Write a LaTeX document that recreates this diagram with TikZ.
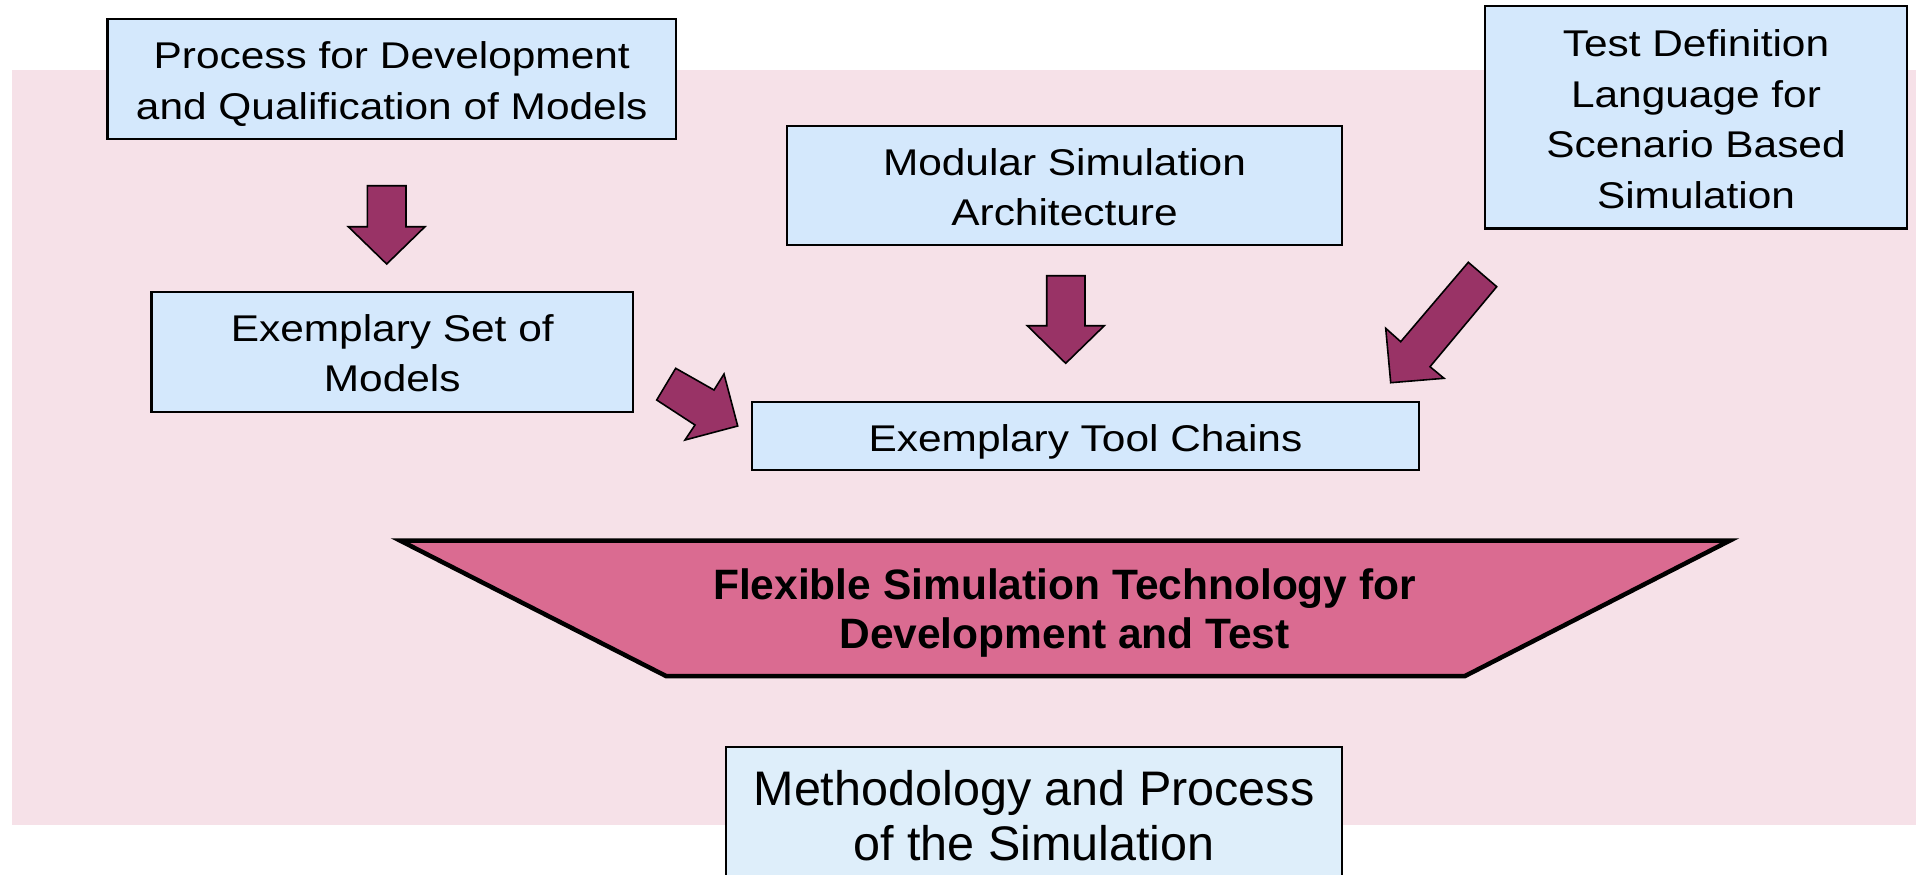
\documentclass[tikz,border=0pt]{standalone}
\usepackage{fontspec}
\setmainfont{Liberation Sans}
\newfontfamily\boxfont[FakeStretch=1.14]{Liberation Sans}
\definecolor{bgpink}{RGB}{246,225,232}
\definecolor{boxblue}{RGB}{212,232,252}
\definecolor{boxblue2}{RGB}{222,238,250}
\definecolor{trapfill}{RGB}{218,107,145}
\definecolor{arrowfill}{RGB}{153,51,102}
\tikzset{
  bluebox/.style={draw=black, line width=2.2pt, fill=boxblue, inner sep=0pt},
  boxtext/.style={align=center, inner sep=0pt, font=\boxfont\fontsize{37.2pt}{50.5pt}\selectfont},
  blockarrow/.style={draw=black, line width=1.6pt, fill=arrowfill, line join=miter},
  trapstyle/.style={draw=black, line width=4.5pt, fill=trapfill, line join=miter},
}
\begin{document}
\begin{tikzpicture}[x=1pt,y=-1pt]
\useasboundingbox (0,0) rectangle (1916,875);
% background
\fill[bgpink] (12,70) rectangle (1916,825);
% boxes
\node[bluebox, minimum width=568.5pt, minimum height=120pt] (proc) at (391.75,79) {};
\node[boxtext] (proctxt) at ([yshift=-5pt]proc.center) {Process for Development\\and Qualification of Models};
\node[bluebox, minimum width=481.5pt, minimum height=120pt] (exset) at (392.25,352) {};
\node[boxtext] (exsettxt) at ([yshift=-1pt]exset.center) {Exemplary Set of\\Models};
\node[bluebox, minimum width=555pt, minimum height=119pt] (modsim) at (1064.5,185.5) {};
\node[boxtext] (modsimtxt) at ([yshift=-1.5pt]modsim.center) {Modular Simulation\\Architecture};
\node[bluebox, minimum width=422pt, minimum height=222.5pt] (tdl) at (1696,117.25) {};
\node[boxtext] (tdltxt) at ([yshift=-2pt]tdl.center) {Test Definition\\Language for\\Scenario Based\\Simulation};
\node[bluebox, minimum width=667pt, minimum height=68pt] (tool) at (1085.5,436) {};
\node[boxtext] (tooltxt) at ([yshift=-6pt]tool.center) {Exemplary Tool Chains};
\node[bluebox, fill=boxblue2, minimum width=616pt, minimum height=132pt] (meth) at (1034,813) {};
\node[boxtext, font=\fontsize{48.5pt}{55pt}\selectfont] (methtxt) at ([yshift=-2.5pt]meth.center) {Methodology and Process\\of the Simulation};
% block arrows
\draw[blockarrow] (367.3,185.7) -- (406,185.7) -- (406,226.7) -- (425,226.7) -- (386.7,264) -- (348.3,226.7) -- (367.3,226.7) -- cycle;
\draw[blockarrow] (1046.7,275.7) -- (1085,275.7) -- (1085,325.7) -- (1104.3,325.7) -- (1065.7,363.3) -- (1027.3,325.7) -- (1046.7,325.7) -- cycle;
\draw[blockarrow] (675.7,368.3) -- (714,390) -- (724,374) -- (737.7,426) -- (685,440) -- (695,425) -- (656.7,400) -- cycle;
\draw[blockarrow] (1468.3,262.3) -- (1496.7,286.7) -- (1430,366.7) -- (1444,378.3) -- (1390.7,382.7) -- (1385.7,328.3) -- (1400.7,341.7) -- cycle;
% trapezoid
\draw[trapstyle] (400,540.5) -- (1730,540.5) -- (1465,676) -- (666,676) -- cycle;
\node[font=\bfseries\fontsize{42.5pt}{49pt}\selectfont, align=center, inner sep=0pt] (flex) at (1064.5,612.8) {Flexible Simulation Technology for\\Development and Test};
\end{tikzpicture}
\end{document}
